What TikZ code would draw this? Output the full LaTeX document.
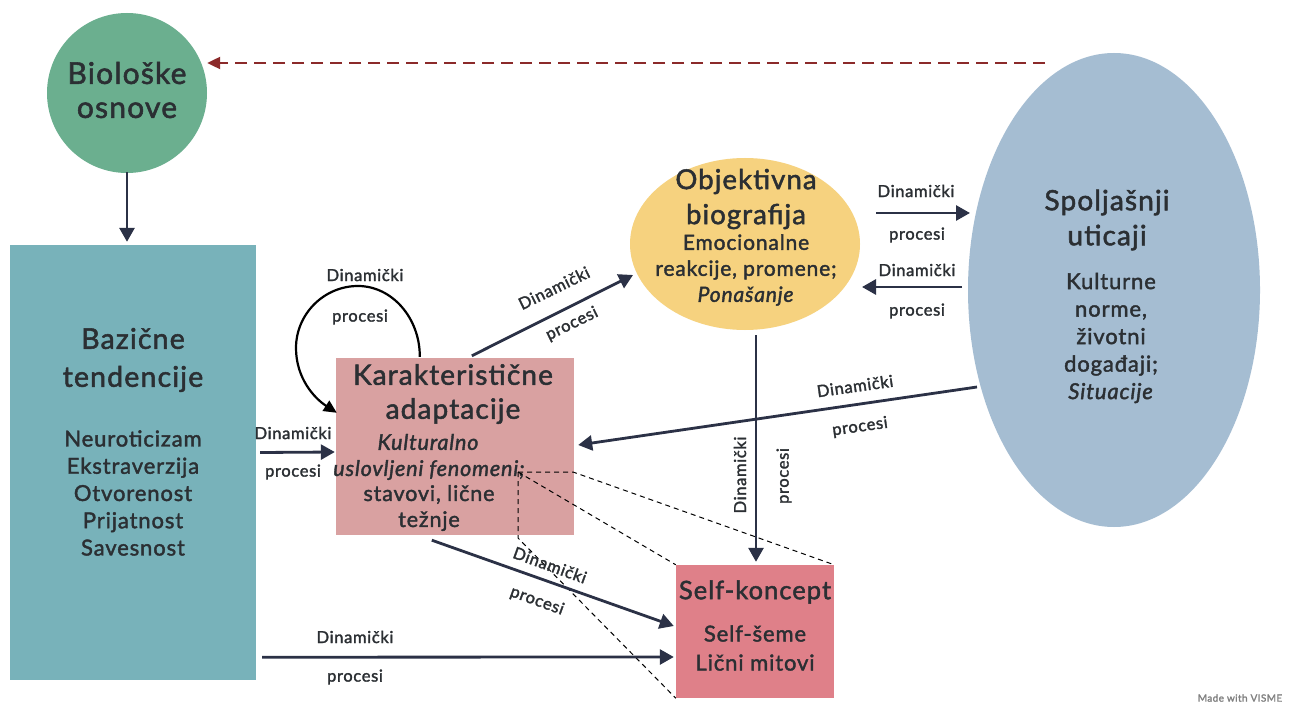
\documentclass[tikz,border=0pt]{standalone}
\usepackage{fontspec}
\setmainfont[FakeBold=1.8, LetterSpace=4]{Lato}
\usetikzlibrary{arrows.meta,shapes.geometric,calc}
\definecolor{cgreen}{HTML}{6BAF8F}
\definecolor{cteal}{HTML}{78B2BA}
\definecolor{ckar}{HTML}{D9A1A1}
\definecolor{cself}{HTML}{DF8089}
\definecolor{cyel}{HTML}{F6D27F}
\definecolor{cblue}{HTML}{A5BDD2}
\definecolor{cnavy}{HTML}{2B3146}
\definecolor{ctext}{HTML}{2B2F33}
\definecolor{cred}{HTML}{8B2A2A}
\newcommand\fsz[2]{\fontsize{#1}{#2}\selectfont}
\begin{document}
\begin{tikzpicture}[x=1pt,y=-1pt,
  arr/.style={draw=cnavy, line width=2.8pt, -{Triangle[length=14pt,width=15pt]}},
  lbl/.style={text=ctext, font=\fsz{16.5}{19}, inner sep=0},
  txt/.style={text=ctext, align=center, inner sep=0},
  zoomline/.style={draw=black, line width=1pt, dash pattern=on 5pt off 4pt},
]
\useasboundingbox[fill=white] (0,0) rectangle (1308,703);

% shapes
\node[circle, fill=cgreen, minimum size=160pt, inner sep=0] (bio) at (127,93) {};
\node[txt, font=\fsz{30}{34}] (biot) at (127,90) {Biološke\\osnove};

\node[rectangle, fill=cteal, minimum width=246pt, minimum height=435pt, inner sep=0] (baz) at (133,462.5) {};
\node[txt, font=\fsz{28.5}{38}] (bazt) at (133,360) {Bazične\\tendencije};
\node[txt, font=\fsz{22}{27.25}] (bazl) at (133,493) {Neuroticizam\\Ekstraverzija\\Otvorenost\\Prijatnost\\Savesnost};

\node[rectangle, fill=ckar, minimum width=238pt, minimum height=177pt, inner sep=0] (kar) at (455,446.5) {};
\node[txt, font=\fsz{28}{34}] (kart) at (453,394) {Karakteristične\\adaptacije};
\node[txt, font=\fsz{21.5}{27}\itshape] (kar1) at (428,442) {Kulturalno};
\node[txt, font=\fsz{21.5}{27}\itshape] (kar2) at (429,470) {uslovljeni fenomeni;};
\node[txt, font=\fsz{21.5}{26}] (kar3) at (429,508) {stavovi, lične\\težnje};

\node[ellipse, fill=cyel, minimum width=230pt, minimum height=172pt, inner sep=0] (obj) at (745,244) {};
\node[txt, font=\fsz{27.5}{35}] (objt) at (746,199) {Objektivna\\biografija};
\node[txt, font=\fsz{21}{26}] (objs) at (746,270) {Emocionalne\\reakcije, promene;\\\textit{Ponašanje}};

\node[ellipse, fill=cblue, minimum width=292pt, minimum height=474pt, inner sep=0] (spol) at (1114,290) {};
\node[txt, font=\fsz{28}{35}] (spolt) at (1107,220) {Spoljašnji\\uticaji};
\node[txt, font=\fsz{22}{27.5}] (spols) at (1111,338) {Kulturne\\norme,\\životni\\događaji;\\\textit{Situacije}};

\node[rectangle, fill=cself, minimum width=158pt, minimum height=133pt, inner sep=0] (self) at (755,631.5) {};
\node[txt, font=\fsz{25.5}{30}] (selft) at (755,592) {Self-koncept};
\node[txt, font=\fsz{22}{29}] (selfs) at (755,648) {Self-šeme\\Lični mitovi};

% dashed zoom lines
\coordinate (fen) at (518,472);
\draw[zoomline] (fen) -- ++(55,0) -- (self.north east);
\draw[zoomline] (fen) -- (self.north west);
\draw[zoomline] (fen) -- ++(0,66) -- (self.south west);

% red dashed
\draw[draw=cred, line width=2.2pt, dash pattern=on 12pt off 7pt, -{Triangle[length=13pt,width=12pt]}]
  ($(spol.center)+(-69,-227)$) -- (bio.east |- 0,63);

% arrows
\draw[arr] ($(bio.south)+(0,-1)$) -- ($(baz.north)+(-6,-3)$);
\draw[arr] ($(baz.east)+(4,-10)$) -- ($(kar.west)+(-1,5.5)$);
\draw[arr] ($(kar.north west)+(136,-2)$) -- ($(obj.center)+(-112,31)$);
\draw[arr] ($(obj.center)+(131,-31)$) -- ($(spol.center)+(-144,-77)$);
\draw[arr] ($(spol.center)+(-152,-3)$) -- ($(obj.center)+(117,43)$);
\draw[arr] ($(spol.center)+(-137,97)$) -- ($(kar.east)+(4,-1.5)$);
\draw[arr] ($(obj.center)+(11,91)$) -- ($(self.north)+(1,-3)$);
\draw[arr] ($(kar.south west)+(96,5)$) -- ($(self.west)+(-2,-5.5)$);
\draw[arr] ($(baz.south east)+(6,-23)$) -- ($(self.west)+(-2,25.5)$);
% self loop
\draw[draw=black, line width=2.2pt, -{Triangle[length=13pt,width=12pt]}]
  ($(kar.north west)+(84,-1)$) .. controls (420,318) and (392,286) .. (358,286)
  .. controls (324,286) and (296,314) .. (296,348)
  .. controls (296,378) and (314,398) .. ($(kar.north west)+(1,55)$);

% labels
\node[lbl] (l1a) at (365,275) {Dinamički};
\node[lbl] (l1b) at (360,317) {procesi};
\node[lbl] (l2a) at (293,433) {Dinamički};
\node[lbl] (l2b) at (293,472) {procesi};
\node[lbl, rotate=26] (l3a) at (554,288) {Dinamički};
\node[lbl, rotate=26] (l3b) at (572,324) {procesi};
\node[lbl] (l4a) at (916,191) {Dinamički};
\node[lbl] (l4b) at (917,235) {procesi};
\node[lbl] (l5a) at (917,270) {Dinamički};
\node[lbl] (l5b) at (917,311) {procesi};
\node[lbl, rotate=8] (l6a) at (855,386) {Dinamički};
\node[lbl, rotate=8] (l6b) at (860,427) {procesi};
\node[lbl, rotate=90] (l7a) at (740,475) {Dinamički};
\node[lbl, rotate=90] (l7b) at (784,476) {procesi};
\node[lbl, rotate=-20] (l8a) at (550,565) {Dinamički};
\node[lbl, rotate=-20] (l8b) at (537,601) {procesi};
\node[lbl] (l9a) at (355,637) {Dinamički};
\node[lbl] (l9b) at (355,677) {procesi};

\node[text=gray, font=\fsz{10}{12}, inner sep=0] (visme) at (1240,698) {Made with VISME};
\end{tikzpicture}
\end{document}
